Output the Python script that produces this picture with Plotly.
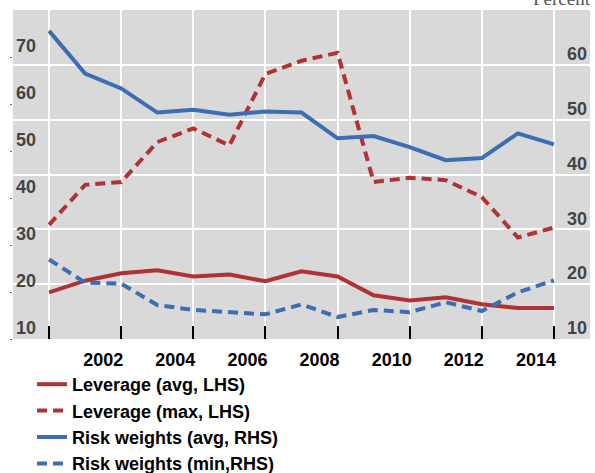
import plotly.graph_objects as go

# year-end observations, 2000-2014
years = list(range(2000, 2015))

lev_avg = [19.9, 22.4, 24.0, 24.6, 23.3, 23.7, 22.3, 24.4, 23.3, 19.3, 18.2, 18.9, 17.4, 16.6, 16.6]
lev_max = [34.3, 42.8, 43.4, 51.9, 54.8, 51.2, 66.4, 69.2, 70.9, 43.4, 44.3, 43.8, 40.2, 31.6, 33.7]
rw_avg = [66.2, 58.4, 55.7, 51.3, 51.8, 50.9, 51.5, 51.3, 46.6, 47.0, 45.0, 42.6, 43.0, 47.5, 45.5]
rw_min = [24.5, 20.3, 20.1, 16.2, 15.3, 14.9, 14.5, 16.3, 14.0, 15.3, 14.9, 16.7, 15.1, 18.5, 20.7]

x_ticks = [2000, 2002, 2004, 2006, 2008, 2010, 2012, 2014]
x_labels = ['', '2002', '2004', '2006', '2008', '2010', '2012', '2014']
lhs_ticks = [10, 20, 30, 40, 50, 60, 70]
rhs_ticks = [10, 20, 30, 40, 50, 60]

RED = '#B03333'
BLUE = '#3D6DB3'
DASH = '10px,6px'
FONT = 'Liberation Sans, Arial, sans-serif'

fig = go.Figure()
fig.add_trace(go.Scatter(x=years, y=lev_avg, name='Leverage (avg, LHS)', mode='lines',
                         line=dict(color=RED, width=4)))
fig.add_trace(go.Scatter(x=years, y=lev_max, name='Leverage (max, LHS)', mode='lines',
                         line=dict(color=RED, width=4, dash=DASH)))
fig.add_trace(go.Scatter(x=years, y=rw_avg, name='Risk weights (avg, RHS)', mode='lines',
                         line=dict(color=BLUE, width=4), yaxis='y2'))
fig.add_trace(go.Scatter(x=years, y=rw_min, name='Risk weights (min,RHS)', mode='lines',
                         line=dict(color=BLUE, width=4, dash=DASH), yaxis='y2'))

fig.update_layout(
    width=595, height=473,
    margin=dict(l=13, r=5, t=10, b=134, autoexpand=False),
    plot_bgcolor='#D9D9D9', paper_bgcolor='white',
    font=dict(family=FONT, size=18, color='black', weight='bold'),
    showlegend=True,
    legend=dict(x=(32 - 13) / 577, xanchor='left', y=(339 - 366) / 329, yanchor='top',
                font=dict(size=18, weight='bold'), bgcolor='rgba(0,0,0,0)'),
    xaxis=dict(range=[1999, 2015], tickvals=x_ticks, ticktext=x_labels,
               showgrid=True, gridcolor='white', gridwidth=1.5,
               ticks='inside', ticklen=13, tickwidth=1.5, tickcolor='black',
               ticklabelshift=-18, ticklabelstandoff=8,
               showline=False, zeroline=False),
    yaxis=dict(range=[10, 80], tickvals=lhs_ticks, showgrid=False, zeroline=False,
               ticklabelposition='inside', ticklabelshift=-11,
               ticks='outside', ticklen=2, tickcolor='#666', showline=False),
    yaxis2=dict(range=[10, 70], tickvals=rhs_ticks, overlaying='y', side='right',
                showgrid=True, gridcolor='white', gridwidth=1.5, zeroline=False,
                ticklabelposition='inside', ticklabelshift=-11, showline=False),
    annotations=[dict(text='Percent', xref='paper', yref='paper', x=1, y=1,
                      xanchor='right', yanchor='bottom', xshift=3, yshift=-1, showarrow=False,
                      font=dict(family='Liberation Serif, Times New Roman, serif', size=19,
                                color='#555555', weight='normal'))],
)

fig.write_html('out.html', config={'displayModeBar': False},
               post_script="document.body.style.margin='0';")
